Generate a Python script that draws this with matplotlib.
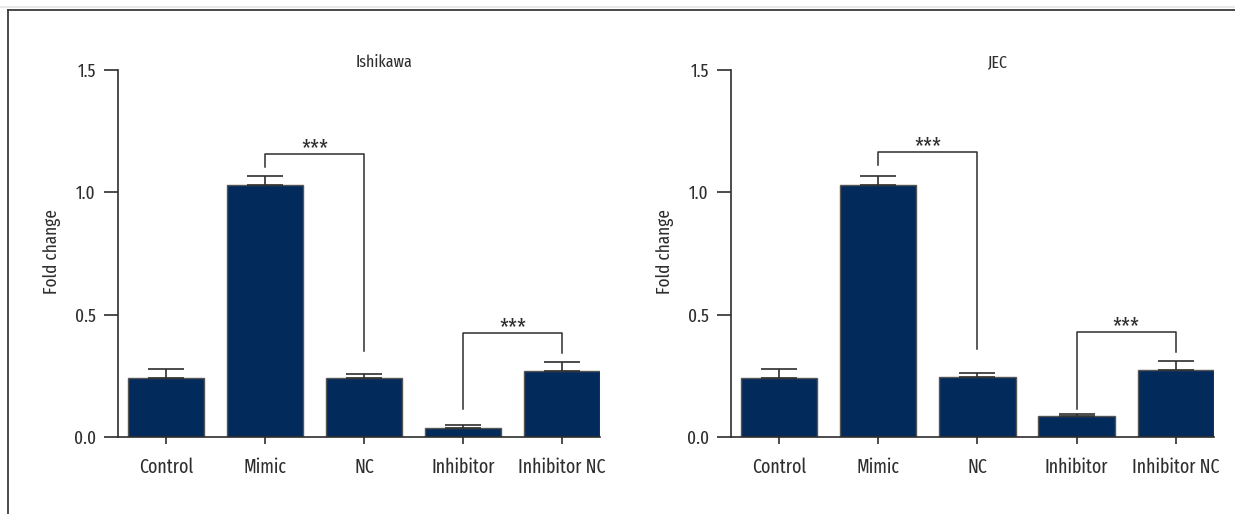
import matplotlib
matplotlib.use("Agg")
import matplotlib.pyplot as plt
from matplotlib.lines import Line2D

plt.rcParams["font.family"] = ["Fira Sans Extra Condensed", "DejaVu Sans"]

groups = ["Control", "Mimic", "NC", "Inhibitor", "Inhibitor NC"]

ishikawa_mean = [0.24, 1.03, 0.24, 0.037, 0.27]
ishikawa_sem = [0.037, 0.038, 0.016, 0.011, 0.036]

jec_mean = [0.24, 1.03, 0.244, 0.087, 0.273]
jec_sem = [0.037, 0.036, 0.016, 0.009, 0.036]

# significance brackets: (left bar, right bar, top, left leg end, right leg end)
ishikawa_brackets = [(1, 2, 1.157, 1.105, 0.35), (3, 4, 0.427, 0.113, 0.343)]
jec_brackets = [(1, 2, 1.166, 1.113, 0.36), (3, 4, 0.431, 0.114, 0.347)]

bar_color = "#022a5a"
ink = "#2e2e2e"

fig = plt.figure(figsize=(12.35, 5.14), dpi=100)


def panel(ax, title, means, sems, brackets):
    x = range(len(groups))
    ax.bar(x, means, width=0.77, color=bar_color, edgecolor="#555555",
           linewidth=1.0, zorder=2)
    ax.errorbar(x, means, yerr=[[0] * len(sems), sems], fmt="none",
                ecolor=ink, elinewidth=1.2, capsize=13, capthick=1.2, zorder=3)
    for i, j, top, lo_i, lo_j in brackets:
        ax.plot([i, i, j, j], [lo_i, top, top, lo_j], color=ink, lw=1.1)
        ax.text((i + j) / 2, top - 0.01, "***", ha="center", va="baseline",
                fontsize=17, color=ink)
    ax.text(2.2, 1.53, title, ha="center", va="center", fontsize=12.5, color=ink)

    ax.set_xlim(-0.485, 4.385)
    ax.set_ylim(0, 1.5)
    ax.set_yticks([0, 0.5, 1.0, 1.5])
    ax.set_yticklabels(["0.0", "0.5", "1.0", "1.5"])
    ax.set_xticks(list(x))
    ax.set_xticklabels(groups)
    for side in ["top", "right"]:
        ax.spines[side].set_visible(False)
    for side in ["left", "bottom"]:
        ax.spines[side].set_color(ink)
        ax.spines[side].set_linewidth(1.2)
    ax.tick_params(axis="y", length=10, width=1.2, color=ink, pad=6,
                   labelsize=13.5, labelcolor=ink)
    ax.tick_params(axis="x", length=5, width=1.2, color=ink, pad=10,
                   labelsize=14, labelcolor=ink)


ax1 = fig.add_axes([118 / 1235, 1 - 437 / 514, 482 / 1235, 367 / 514])
panel(ax1, "Ishikawa", ishikawa_mean, ishikawa_sem, ishikawa_brackets)
ax2 = fig.add_axes([731 / 1235, 1 - 437 / 514, 483 / 1235, 367 / 514])
panel(ax2, "JEC", jec_mean, jec_sem, jec_brackets)

for xpos in [52, 665]:
    fig.text(xpos / 1235, 1 - 252 / 514, "Fold change", rotation=90,
             ha="center", va="center", fontsize=13.5, color=ink)

# frame lines along the top and left edge
fig.add_artist(Line2D([0, 1], [1 - 7 / 514] * 2, color="#e4e4e4", lw=1.2))
fig.add_artist(Line2D([8 / 1235, 1], [1 - 9.5 / 514] * 2, color="#3a3a3a", lw=1.3))
fig.add_artist(Line2D([8 / 1235] * 2, [0, 1 - 9.5 / 514], color="#3a3a3a", lw=1.3))

fig.savefig("out.png", dpi=100)
